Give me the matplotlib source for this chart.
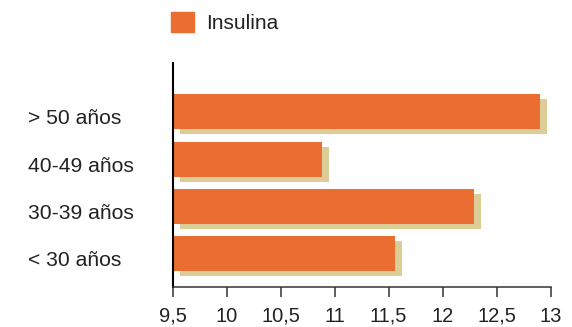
import numpy as np
import matplotlib
matplotlib.use("Agg")
import matplotlib.pyplot as plt
import matplotlib.transforms as mtransforms
from matplotlib.patches import Patch

# ── datos ─────────────────────────────────────────────────────────────────────
categorias = ['> 50 años', '40-49 años', '30-39 años', '< 30 años']
insulina = [12.9, 10.88, 12.29, 11.56]
xticks = [9.5, 10, 10.5, 11, 11.5, 12, 12.5, 13]
xticklabels = ['9,5', '10', '10,5', '11', '11,5', '12', '12,5', '13']

COR = {"barra": "#EA6D32", "sombra": "#DBCD95", "texto": "#222222"}
W, H, DPI = 572, 327, 100

plt.rcParams['font.family'] = ['Liberation Sans', 'DejaVu Sans']

fig = plt.figure(figsize=(W / DPI, H / DPI), dpi=DPI)
ax = fig.add_axes([172.5 / W, (H - 287) / H, (550.5 - 172.5) / W, 224 / H])

pos = np.arange(len(categorias))[::-1]
base = xticks[0]

# sombra desplazada (derecha/abajo) en píxeles
sombra = ax.transData + mtransforms.ScaledTranslation(7 / DPI, -5 / DPI, fig.dpi_scale_trans)
ax.barh(pos, np.array(insulina) - base, left=base, height=0.74,
        color=COR['sombra'], transform=sombra, zorder=1)
ax.barh(pos, np.array(insulina) - base, left=base, height=0.74,
        color=COR['barra'], zorder=2)

ax.set_xlim(9.5, 13)
ax.set_ylim(-0.70, 4.035)

ax.set_xticks(xticks)
ax.set_xticklabels(xticklabels, fontsize=14.5, color=COR['texto'])
ax.tick_params(axis='x', length=7.2, width=1.1, color='#333333', pad=7)

# etiquetas un poco por debajo del centro de la barra, como en el original
ax.set_yticks(pos - 0.1)
ax.set_yticklabels(categorias, fontsize=15.2, color=COR['texto'], ha='left')
ax.tick_params(axis='y', length=0, pad=104)

for lado in ('top', 'right'):
    ax.spines[lado].set_visible(False)
ax.spines['left'].set_color('black')
ax.spines['left'].set_linewidth(1.5)
ax.spines['bottom'].set_color('#333333')
ax.spines['bottom'].set_linewidth(1.1)

fig.legend(handles=[Patch(color=COR['barra'], label='Insulina')],
           loc='upper left', bbox_to_anchor=(171 / W, 1 - 12 / H),
           frameon=False, fontsize=15, borderpad=0, borderaxespad=0,
           handlelength=1.1, handleheight=1.1, handletextpad=0.6,
           labelcolor=COR['texto'])

fig.savefig('out.png', dpi=DPI)
